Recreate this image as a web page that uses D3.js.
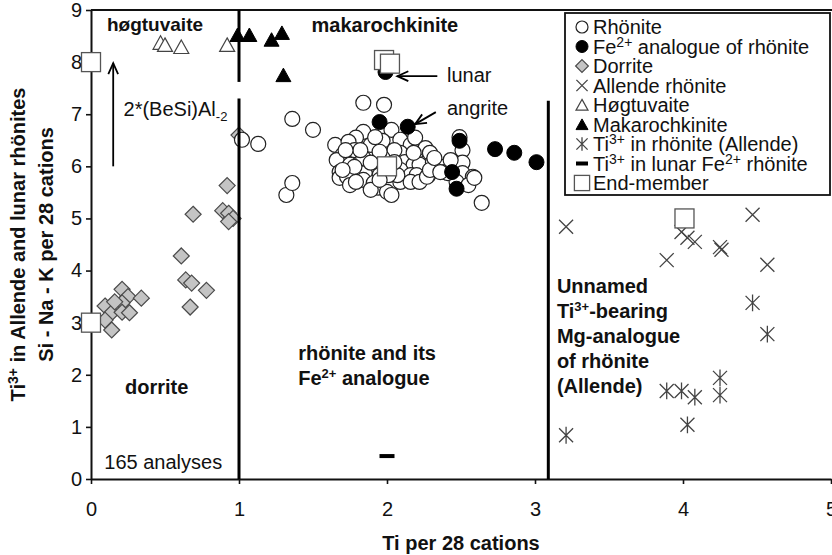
<!DOCTYPE html>
<html><head><meta charset="utf-8">
<script src="https://cdn.jsdelivr.net/npm/d3@7"></script>
<style>
body{margin:0;background:#fff}
svg{display:block}
text{font-family:"Liberation Sans",Arial,Helvetica,sans-serif;fill:#111}
</style>
</head><body><svg id="c" width="832" height="555"></svg>
<script>
// ---------- DATA (Ti per 28 cations, Si-Na-K / Ti3+ per 28 cations) ----------
const xTicks = [0,1,2,3,4,5];
const yTicks = [0,1,2,3,4,5,6,7,8,9];

const rhonite = [
 [1.02,6.51],[1.13,6.43],[1.36,6.91],[1.32,5.45],[1.36,5.68],[1.50,6.70],[1.84,7.22],[1.98,7.18],[2.64,5.30],
 [1.84,6.66],[2.03,6.70],[1.79,6.55],[1.65,6.41],[1.74,6.47],[1.89,6.41],[1.97,6.49],[2.09,6.51],[2.16,6.41],
 [2.20,6.28],[2.19,6.55],[2.26,6.35],[2.29,6.26],[2.49,6.56],[2.51,6.31],[1.70,6.22],[1.78,6.31],[1.66,6.12],
 [1.75,6.03],[1.84,6.16],[1.91,6.03],[2.09,6.26],[2.12,6.08],[2.18,6.03],[2.22,6.03],[2.31,6.08],[2.37,5.99],
 [2.39,5.89],[2.51,6.07],[1.68,5.89],[1.77,5.87],[1.85,5.87],[1.95,5.83],[2.09,5.93],[2.16,5.83],[2.20,5.83],
 [2.28,5.83],[2.51,5.87],[2.58,5.80],[1.68,5.78],[1.73,5.80],[1.84,5.74],[1.91,5.68],[2.02,5.60],[2.09,5.70],
 [2.16,5.70],[2.22,5.70],[2.47,5.70],[2.55,5.64],[1.94,5.59],[2.00,5.51],[2.03,5.45],[1.89,5.55],[2.05,6.31],
 [1.97,6.16],[1.82,6.31],[2.27,5.80],[2.41,5.87],[1.78,5.99],[1.70,5.93],[2.59,5.78],[2.29,5.93],[2.36,5.89],
 [1.95,6.28],[2.18,6.26],[1.89,6.07],[2.07,5.83],[2.05,6.08],[2.01,5.83],[1.75,5.64],[1.79,5.70],[1.95,5.74],
 [2.32,6.16],[2.43,6.12],[1.92,6.56],[1.72,6.31]
];
const feRhonite = [[1.99,7.81],[1.95,6.85],[2.14,6.76],[2.49,6.49],[2.73,6.33],[2.86,6.26],[3.01,6.08],[2.44,5.89],[2.47,5.57]];
const dorrite = [
 [0.095,3.32],[0.21,3.64],[0.25,3.50],[0.34,3.47],[0.14,3.19],[0.21,3.38],[0.21,3.20],[0.26,3.19],[0.095,3.05],
 [0.14,2.86],[0.16,3.40],[0.61,4.28],[0.64,3.82],[0.68,3.76],[0.78,3.62],[0.67,3.30],[0.69,5.08],[0.92,5.63],
 [0.89,5.15],[0.93,5.10],[0.96,5.00],[0.93,4.94],[1.00,6.60]
];
const allende = [[3.21,4.84],[4.47,5.07],[3.99,4.74],[4.03,4.63],[4.08,4.55],[4.25,4.45],[4.26,4.40],[3.89,4.20],[4.57,4.11]];
const hogtuvaite = [[0.47,8.37],[0.50,8.33],[0.61,8.29],[0.92,8.33]];
const makarochkinite = [[0.99,8.52],[1.07,8.52],[1.22,8.43],[1.29,8.56],[1.30,7.75]];
const ti3Allende = [[3.89,1.69],[3.99,1.69],[4.08,1.57],[4.25,1.94],[4.25,1.61],[4.03,1.04],[4.47,3.38],[4.57,2.78],[3.21,0.84]];
const ti3Lunar = [[2.00,0.44]];
const endMember = [[0,8],[0,3],[2.00,6.00],[1.98,8.04],[2.02,7.97],[4.01,5.00]];

const legendItems = [
 {k:"circle", t:["Rhönite"]},
 {k:"fcircle", t:["Fe",{sup:"2+"}," analogue of rhönite"]},
 {k:"diamond", t:["Dorrite"]},
 {k:"x", t:["Allende rhönite"]},
 {k:"tri", t:["Høgtuvaite"]},
 {k:"ftri", t:["Makarochkinite"]},
 {k:"ast", t:["Ti",{sup:"3+"}," in rhönite (Allende)"]},
 {k:"dash", t:["Ti",{sup:"3+"}," in lunar Fe",{sup:"2+"}," rhönite"]},
 {k:"square", t:["End-member"]}
];

// ---------- LAYOUT ----------
const svg = d3.select("#c");
const L=91, R=831, T=10, B=479;
const x = d3.scaleLinear().domain([0,5]).range([L,R]);
const y = d3.scaleLinear().domain([0,9]).range([B,T]);
const FONT = 20;

function paint(g, kind, s){
  s = s||1;
  switch(kind){
    case "circle": g.append("circle").attr("r",7.5*s).attr("fill","#fff").attr("stroke","#222").attr("stroke-width",1.2); break;
    case "fcircle": g.append("circle").attr("r",7.5*s).attr("fill","#000").attr("stroke","#000").attr("stroke-width",1); break;
    case "diamond": {const h=8*s; g.append("path").attr("d",`M0,${-h}L${h},0L0,${h}L${-h},0Z`).attr("fill","#c4c4c4").attr("stroke","#4a4a4a").attr("stroke-width",1.2); break;}
    case "tri": {const w=7.5*s,h=7*s; g.append("path").attr("d",`M0,${-h}L${w},${h-0.5}L${-w},${h-0.5}Z`).attr("fill","#fff").attr("stroke","#444").attr("stroke-width",1.2); break;}
    case "ftri": {const w=7.5*s,h=7*s; g.append("path").attr("d",`M0,${-h}L${w},${h-0.5}L${-w},${h-0.5}Z`).attr("fill","#000").attr("stroke","#000").attr("stroke-width",1); break;}
    case "x": {const h=7*s; g.append("path").attr("d",`M${-h},${-h}L${h},${h}M${-h},${h}L${h},${-h}`).attr("stroke","#444").attr("stroke-width",1.3).attr("fill","none"); break;}
    case "ast": {const h=7*s; g.append("path").attr("d",`M${-h},${-h}L${h},${h}M${-h},${h}L${h},${-h}M0,${-h*1.2}L0,${h*1.2}`).attr("stroke","#444").attr("stroke-width",1.3).attr("fill","none"); break;}
    case "dash": {g.append("rect").attr("x",-7.5*s).attr("y",-2).attr("width",15*s).attr("height",4).attr("fill","#000"); break;}
    case "square": {const h=9.5*s; g.append("rect").attr("x",-h).attr("y",-h).attr("width",2*h).attr("height",2*h).attr("fill","#fff").attr("stroke","#555").attr("stroke-width",1.3); break;}
  }
}
function series(data, kind){
  svg.append("g").selectAll("g").data(data).join("g")
    .attr("transform", d=>`translate(${x(d[0])},${y(d[1])})`)
    .each(function(){ paint(d3.select(this), kind); });
}
// rich text: strings, {sup}, {sub}; shift of following run is reset on next tspan
function rich(t, parts, supSize){
  let shift = 0;
  parts.forEach(p=>{
    if(typeof p==="string"){ t.append("tspan").attr("dy",-shift).text(p); shift=0; }
    else if(p.sup){ t.append("tspan").attr("font-size",supSize).attr("dy",-7-shift).text(p.sup); shift=-7; }
    else if(p.sub){ t.append("tspan").attr("font-size",supSize).attr("dy",5-shift).text(p.sub); shift=5; }
  });
}

// ---------- AXES ----------
const gx = svg.append("g").attr("transform",`translate(0,${B})`)
  .call(d3.axisBottom(x).tickValues(xTicks).tickFormat(d3.format("d")).tickSize(5).tickSizeOuter(0).tickPadding(18));
const gy = svg.append("g").attr("transform",`translate(${L},0)`)
  .call(d3.axisLeft(y).tickValues(yTicks).tickFormat(d3.format("d")).tickSize(5).tickSizeOuter(0).tickPadding(4));
[gx,gy].forEach(g=>{
  g.select(".domain").attr("stroke","#111").attr("stroke-width",2);
  g.selectAll(".tick line").attr("stroke","#111").attr("stroke-width",1.6);
  g.selectAll(".tick text").attr("font-size",FONT).attr("fill","#222").style("font-family",'"Liberation Sans",Arial,sans-serif');
});
svg.append("line").attr("x1",L).attr("x2",832).attr("y1",T).attr("y2",T).attr("stroke","#111").attr("stroke-width",2);

// axis titles
svg.append("text").attr("x",461).attr("y",550).attr("text-anchor","middle").attr("font-size",FONT).attr("font-weight","bold").text("Ti per 28 cations");
const yt = svg.append("text").attr("transform",`translate(25,${(T+B)/2}) rotate(-90)`).attr("text-anchor","middle").attr("font-size",FONT).attr("font-weight","bold");
rich(yt, ["Ti",{sup:"3+"}," in Allende and lunar rhönites"], 14);
svg.append("text").attr("transform",`translate(53,${(T+B)/2}) rotate(-90)`).attr("text-anchor","middle").attr("font-size",FONT).attr("font-weight","bold").text("Si - Na - K per 28 cations");

// ---------- MARKERS ----------
series(dorrite,"diamond");
series(rhonite,"circle");
series(feRhonite,"fcircle");
series(hogtuvaite,"tri");
series(makarochkinite,"ftri");
series(allende,"x");
series(ti3Allende,"ast");
series(ti3Lunar,"dash");
series(endMember,"square");

// ---------- FIELD BOUNDARIES ----------
const bnd = svg.append("g").attr("stroke","#000").attr("stroke-width",3);
bnd.append("line").attr("x1",x(1)).attr("x2",x(1)).attr("y1",y(9)).attr("y2",y(7.62));
bnd.append("line").attr("x1",x(1)).attr("x2",x(1)).attr("y1",y(7.3)).attr("y2",y(0));
bnd.append("line").attr("x1",x(3.09)).attr("x2",x(3.09)).attr("y1",y(7.26)).attr("y2",y(0));

// ---------- ARROWS ----------
function arrow(x1,y1,x2,y2){
  const X1=x(x1),Y1=y(y1),X2=x(x2),Y2=y(y2);
  const a=Math.atan2(Y2-Y1,X2-X1), hl=12, ha=0.42;
  const g=svg.append("g").attr("stroke","#000").attr("stroke-width",1.8).attr("fill","none");
  g.append("line").attr("x1",X1).attr("y1",Y1).attr("x2",X2).attr("y2",Y2);
  g.append("path").attr("d",`M${X2-hl*Math.cos(a-ha)},${Y2-hl*Math.sin(a-ha)}L${X2},${Y2}L${X2-hl*Math.cos(a+ha)},${Y2-hl*Math.sin(a+ha)}`);
}
arrow(0.15,6.0,0.15,7.98);
arrow(2.34,7.73,2.07,7.73);
arrow(2.33,7.04,2.19,6.81);

// ---------- ANNOTATIONS ----------
function label(px,py,parts,bold,size){
  const t=svg.append("text").attr("x",px).attr("y",py).attr("font-size",size||FONT).attr("font-weight",bold?"bold":"normal");
  rich(t, parts, 13);
  return t;
}
label(x(0.108),y(8.6),["høgtuvaite"],true,19);
label(x(1.49),y(8.58),["makarochkinite"],true);
label(x(0.22),y(6.97),["2*(BeSi)Al",{sub:"-2"}],false);
label(x(2.405),y(7.62),["lunar"],false);
label(x(2.405),y(6.99),["angrite"],false);
label(x(1.40),y(2.29),["rhönite and its"],true);
label(x(1.40),y(1.81),["Fe",{sup:"2+"},"  analogue"],true);
label(x(0.23),y(1.63),["dorrite"],true);
label(x(0.09),y(0.19),["165 analyses"],false);
[["Unnamed"],["Ti",{sup:"3+"},"-bearing"],["Mg-analogue"],["of rhönite"],["(Allende)"]]
  .forEach((ln,i)=>label(x(3.148),y(3.57-i*0.48),ln,true));

// ---------- LEGEND ----------
const lg = svg.append("g");
lg.append("rect").attr("x",565).attr("y",13).attr("width",265).attr("height",182).attr("fill","#fff").attr("stroke","#111").attr("stroke-width",1.8);
legendItems.forEach((it,i)=>{
  const cy = 27 + i*19.5;
  const g = lg.append("g").attr("transform",`translate(582,${cy})`);
  paint(g, it.k, 0.8);
  const t = lg.append("text").attr("x",593).attr("y",cy+7).attr("font-size",FONT);
  rich(t, it.t, 14);
});
</script>
</body></html>
